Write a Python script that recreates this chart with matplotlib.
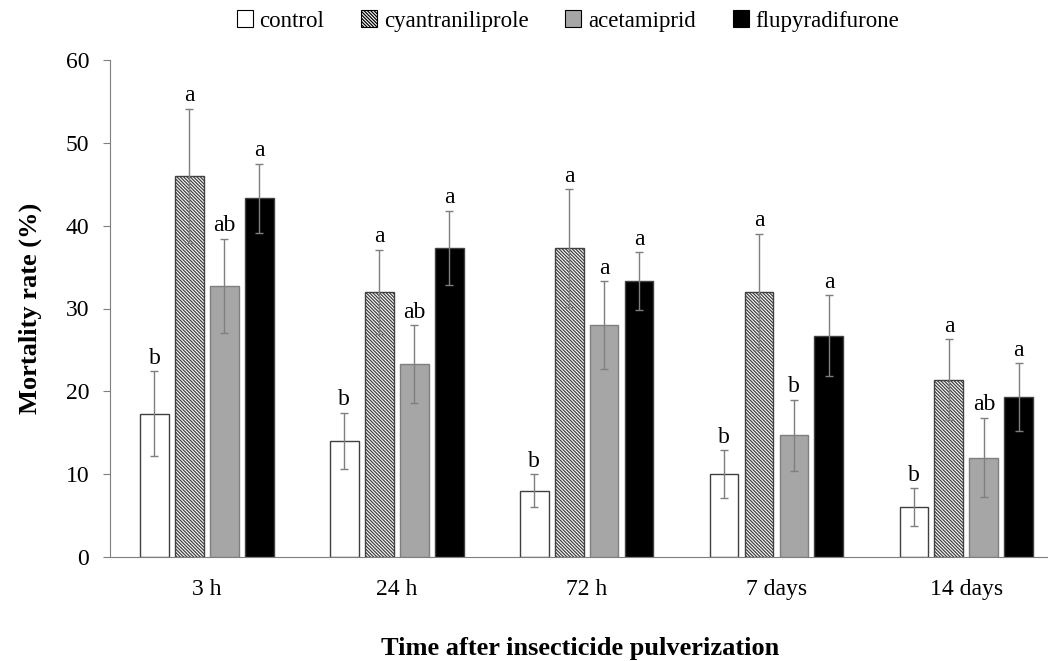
import numpy as np
import matplotlib.pyplot as plt
from matplotlib.patches import Patch

plt.rcParams['font.family'] = ['Liberation Serif', 'DejaVu Serif']
plt.rcParams['hatch.linewidth'] = 0.9

times = ['3 h', '24 h', '72 h', '7 days', '14 days']
treatments = ['control', 'cyantraniliprole', 'acetamiprid', 'flupyradifurone']

control = [17.3, 14.0, 8.0, 10.0, 6.0]
cyantraniliprole = [46.0, 32.0, 37.3, 32.0, 21.4]
acetamiprid = [32.7, 23.3, 28.0, 14.7, 12.0]
flupyradifurone = [43.3, 37.3, 33.3, 26.7, 19.3]

control_err = [5.1, 3.4, 2.0, 2.9, 2.3]
cyantraniliprole_err = [8.1, 5.1, 7.1, 7.0, 4.9]
acetamiprid_err = [5.7, 4.7, 5.3, 4.3, 4.8]
flupyradifurone_err = [4.2, 4.5, 3.5, 4.9, 4.1]

letters = [
    ['b', 'b', 'b', 'b', 'b'],
    ['a', 'a', 'a', 'a', 'a'],
    ['ab', 'ab', 'a', 'b', 'ab'],
    ['a', 'a', 'a', 'a', 'a'],
]

values = [control, cyantraniliprole, acetamiprid, flupyradifurone]
errors = [control_err, cyantraniliprole_err, acetamiprid_err, flupyradifurone_err]
faces = ['white', 'white', '#a6a6a6', 'black']
hatches = [None, '\\' * 10, None, None]
edges = ['#404040', '#404040', '#7f7f7f', '#404040']

fig = plt.figure(figsize=(10.48, 6.61), dpi=100)
ax = fig.add_axes([110 / 1048, 1 - 557 / 661, 1 - 110 / 1048, (557 - 60) / 661])

x = np.arange(len(times))
width = 0.152
offsets = [-1.5, -0.5, 0.5, 1.5]
step = 0.184

for i in range(4):
    pos = x + offsets[i] * step
    ax.bar(pos, values[i], width, color=faces[i], edgecolor=edges[i],
           hatch=hatches[i], linewidth=1.0, zorder=2)
    ax.errorbar(pos, values[i], yerr=errors[i], fmt='none', ecolor='#7f7f7f',
                elinewidth=1.0, capsize=3, capthick=1.0, zorder=3)
    for j in range(len(times)):
        ax.text(pos[j], values[i][j] + errors[i][j] + 0.3, letters[i][j],
                ha='center', va='bottom', fontsize=17)

ax.set_ylim(0, 60)
ax.set_xlim(-0.51, 4.43)
ax.set_yticks(range(0, 61, 10))
ax.set_xticks(x)
ax.set_xticklabels(times)
ax.tick_params(axis='y', direction='out', length=5, color='#7f7f7f', labelsize=17, pad=10)
ax.tick_params(axis='x', length=0, labelsize=17, pad=16)

for s in ['top', 'right']:
    ax.spines[s].set_visible(False)
ax.spines['left'].set_color('#7f7f7f')
ax.spines['bottom'].set_color('#7f7f7f')

ax.set_ylabel('Mortality rate (%)', fontsize=19, fontweight='bold', labelpad=17)
fig.text(580 / 1048, 1 - 648 / 661, 'Time after insecticide pulverization',
         ha='center', va='center', fontsize=19, fontweight='bold')

handles = [Patch(facecolor=faces[i], edgecolor='black', hatch=hatches[i], linewidth=0.8)
           for i in range(4)]
fig.legend(handles, treatments, loc='center', bbox_to_anchor=(568 / 1048, 1 - 21 / 661),
           ncol=4, frameon=False, prop={'family': 'Liberation Serif', 'size': 16.5},
           handlelength=0.7, handleheight=0.7, handletextpad=0.3, columnspacing=1.6)

fig.savefig('out.png', dpi=100)
